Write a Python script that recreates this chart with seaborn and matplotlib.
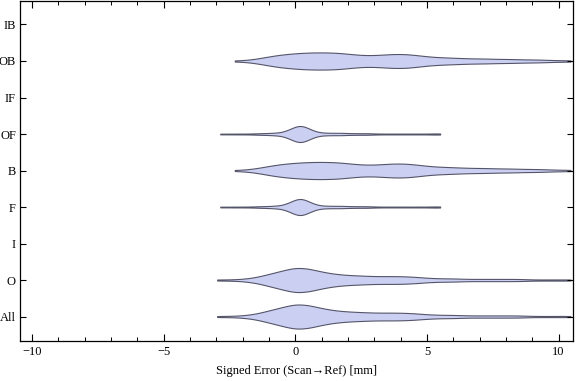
import numpy as np
import pandas as pd
import matplotlib.pyplot as plt
import seaborn as sns
from matplotlib.ticker import MultipleLocator

cats = ["IB", "OB", "IF", "OF", "B", "F", "I", "O", "All"]

# signed error (mm): binned values and how many samples sit in each bin,
# read off the violin widths in the picture
ob_x = [-2.3, -1.8, -1.3, -0.8, -0.3, 0.2, 0.7, 1.2, 1.7, 2.2, 2.7, 3.2, 3.7,
        4.2, 4.7, 5.2, 5.7, 6.2, 6.7, 7.2, 7.7, 8.2, 8.7, 9.2, 9.7, 10.2, 10.45]
ob_n = [1, 2, 6, 11, 14, 16, 17, 17, 16, 13, 11, 12, 14,
        14, 11, 8, 7, 6, 5, 5, 4, 4, 3, 3, 2, 1, 1]

of_x = [-2.85, -2.3, -1.8, -1.3, -0.8, -0.3, 0.0, 0.2, 0.4, 0.7, 1.2, 1.7,
        2.2, 2.7, 3.2, 3.7, 4.2, 4.7, 5.2, 5.5]
of_n = [1, 1, 1, 2, 3, 6, 9, 11, 8, 5, 3, 3, 2, 2, 1, 1, 1, 1, 1, 1]

o_x = [-2.97, -2.5, -2.0, -1.5, -1.0, -0.5, 0.0, 0.5, 1.0, 1.5, 2.0, 2.5, 3.0,
       3.5, 4.0, 4.5, 5.0, 5.5, 6.0, 6.5, 7.0, 7.5, 8.0, 8.5, 9.0, 9.5, 10.0,
       10.45]
o_n = [1, 1, 2, 5, 11, 17, 23, 21, 15, 11, 9, 8, 7,
       7, 7, 6, 4, 3, 3, 2, 2, 2, 2, 2, 1, 1, 1, 1]

groups = {"OB": (ob_x, ob_n), "OF": (of_x, of_n), "B": (ob_x, ob_n),
          "F": (of_x, of_n), "O": (o_x, o_n), "All": (o_x, o_n)}
widths = {"OB": 0.47, "OF": 0.44, "B": 0.47, "F": 0.44, "O": 0.66, "All": 0.66}
bws = {"OB": 0.35, "OF": 0.25, "B": 0.35, "F": 0.25, "O": 0.32, "All": 0.32}

plt.rcParams['font.family'] = ['Liberation Serif', 'DejaVu Serif']
plt.rcParams['font.size'] = 9

fig, ax = plt.subplots(figsize=(5.76, 3.81), dpi=100)
fig.subplots_adjust(left=0.035, right=0.995, top=0.998, bottom=0.105)

for name, (xs, ns) in groups.items():
    vals = np.repeat(xs, ns)
    df = pd.DataFrame({"err": vals, "cat": name})
    sns.violinplot(data=df, x="err", y="cat", order=cats, orient="h",
                   cut=0, inner=None, width=widths[name],
                   bw_method=bws[name] / vals.std(),
                   color="#cbd0f3", linecolor="#55556a", linewidth=0.8,
                   saturation=1, ax=ax)

ax.set_xlim(-10.45, 10.55)
ax.set_ylim(8.67, -0.65)
ax.set_ylabel("")
ax.set_xlabel("Signed Error (Scan→Ref) [mm]", labelpad=5)
ax.xaxis.set_major_locator(MultipleLocator(5))
ax.xaxis.set_minor_locator(MultipleLocator(1))
ax.tick_params(axis="x", which="major", direction="in", length=5, top=True, width=0.8)
ax.tick_params(axis="x", which="minor", direction="in", length=3, top=True, width=0.7)
ax.tick_params(axis="y", direction="in", length=4, right=True, width=0.8, pad=3)
for s in ax.spines.values():
    s.set_linewidth(0.9)

plt.savefig("out.png", dpi=100)
